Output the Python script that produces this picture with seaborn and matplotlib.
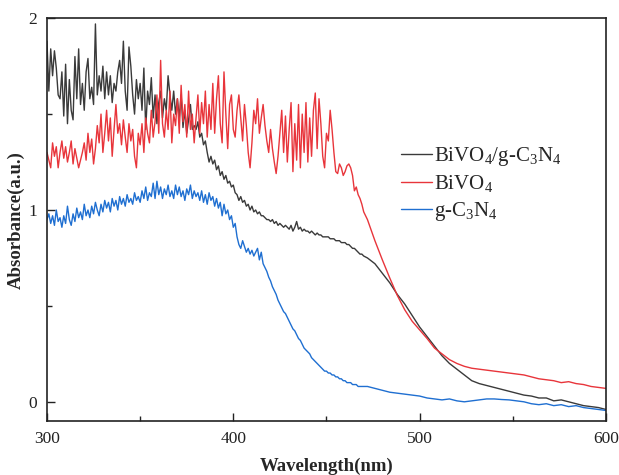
import numpy as np
import pandas as pd
import matplotlib
matplotlib.use("Agg")
import matplotlib.pyplot as plt
from matplotlib.ticker import MultipleLocator
import seaborn as sns

# ---------------- data ----------------
wavelength = list(range(300, 471)) + list(range(472, 601, 4))

bivo4_gc3n4 = [
    1.88, 1.62, 1.84, 1.70, 1.83, 1.74, 1.60, 1.58, 1.72, 1.49,
    1.76, 1.45, 1.68, 1.52, 1.47, 1.80, 1.58, 1.84, 1.55, 1.66,
    1.52, 1.72, 1.79, 1.58, 1.64, 1.55, 1.97, 1.60, 1.70, 1.62,
    1.75, 1.58, 1.72, 1.60, 1.70, 1.56, 1.66, 1.62, 1.72, 1.78,
    1.66, 1.88, 1.62, 1.52, 1.85, 1.75, 1.60, 1.50, 1.68, 1.58,
    1.66, 1.52, 1.74, 1.42, 1.62, 1.55, 1.69, 1.48, 1.60, 1.45,
    1.56, 1.62, 1.48, 1.58, 1.52, 1.70, 1.60, 1.52, 1.62, 1.50,
    1.58, 1.48, 1.60, 1.43, 1.52, 1.40, 1.47, 1.55, 1.42, 1.44,
    1.42, 1.46, 1.38, 1.40, 1.34, 1.36, 1.30, 1.25, 1.28, 1.24,
    1.26, 1.21, 1.23, 1.18, 1.20, 1.16, 1.18, 1.14, 1.15, 1.12,
    1.13, 1.09, 1.08, 1.05, 1.07, 1.04, 1.05, 1.02, 1.03, 1.00,
    1.02, 0.99, 1.00, 0.98, 0.99, 0.97, 0.97, 0.96, 0.95, 0.95,
    0.94, 0.95, 0.93, 0.94, 0.92, 0.93, 0.92, 0.91, 0.92, 0.91,
    0.90, 0.92, 0.89, 0.91, 0.94, 0.90, 0.91, 0.89, 0.90, 0.89,
    0.89, 0.88, 0.89, 0.88, 0.87, 0.88, 0.87, 0.87, 0.86, 0.86,
    0.86, 0.86, 0.85, 0.85, 0.85, 0.84, 0.84, 0.84, 0.83, 0.83,
    0.83, 0.82, 0.82, 0.81, 0.80, 0.80, 0.79, 0.78, 0.77, 0.77,
    0.76,
    0.75, 0.72, 0.67, 0.62, 0.56, 0.51, 0.45, 0.39, 0.34, 0.29,
    0.24, 0.20, 0.17, 0.14, 0.11, 0.095, 0.085, 0.075, 0.065, 0.055,
    0.045, 0.035, 0.03, 0.02, 0.02, 0.005, 0.01, 0.0, -0.01, -0.02,
    -0.025, -0.03, -0.04,
]

bivo4 = [
    1.30, 1.26, 1.22, 1.35, 1.28, 1.33, 1.22, 1.30, 1.36, 1.27,
    1.33, 1.25, 1.30, 1.36, 1.24, 1.32, 1.27, 1.22, 1.26, 1.30,
    1.35, 1.26, 1.40, 1.30, 1.37, 1.24, 1.32, 1.44, 1.35, 1.50,
    1.30, 1.40, 1.52, 1.36, 1.48, 1.28, 1.42, 1.55, 1.40, 1.45,
    1.34, 1.47, 1.38, 1.30, 1.45, 1.36, 1.42, 1.28, 1.22, 1.40,
    1.34, 1.45, 1.30, 1.48, 1.40, 1.35, 1.52, 1.38, 1.46, 1.60,
    1.40, 1.78, 1.45, 1.38, 1.52, 1.42, 1.62, 1.35, 1.50, 1.44,
    1.58, 1.40, 1.65, 1.46, 1.55, 1.38, 1.62, 1.42, 1.50, 1.35,
    1.48, 1.60, 1.40, 1.56, 1.45, 1.62, 1.38, 1.55, 1.42, 1.66,
    1.40, 1.58, 1.70, 1.45, 1.35, 1.72, 1.50, 1.32, 1.55, 1.60,
    1.42, 1.38, 1.52, 1.60, 1.48, 1.36, 1.55, 1.44, 1.30, 1.22,
    1.35, 1.52, 1.45, 1.58, 1.40, 1.48, 1.55, 1.44, 1.36, 1.30,
    1.42, 1.32, 1.25, 1.19, 1.28, 1.40, 1.52, 1.30, 1.49, 1.25,
    1.42, 1.56, 1.20, 1.45, 1.26, 1.55, 1.22, 1.50, 1.30, 1.56,
    1.25, 1.48, 1.28, 1.52, 1.61, 1.32, 1.58, 1.45, 1.28, 1.22,
    1.40, 1.36, 1.52, 1.42, 1.30, 1.20, 1.19, 1.24, 1.22, 1.18,
    1.20, 1.23, 1.24, 1.22, 1.18, 1.10, 1.12, 1.08, 1.06, 1.03,
    0.99,
    0.95, 0.84, 0.74, 0.645, 0.555, 0.48, 0.42, 0.375, 0.33, 0.28,
    0.25, 0.22, 0.20, 0.185, 0.175, 0.17, 0.165, 0.16, 0.155, 0.15,
    0.145, 0.14, 0.13, 0.12, 0.115, 0.11, 0.10, 0.105, 0.095, 0.09,
    0.08, 0.075, 0.07,
]

gc3n4 = [
    0.95, 0.98, 0.93, 0.97, 0.92, 1.00, 0.94, 0.96, 0.91, 0.97,
    0.93, 1.02, 0.95, 0.92, 0.98, 0.94, 1.01, 0.96, 0.99, 0.95,
    1.03, 0.97, 1.00, 0.96, 1.02, 0.98, 1.04, 1.00, 0.97, 1.03,
    0.99, 1.05, 1.01, 1.04, 0.99, 1.06, 1.02, 1.05, 1.00, 1.07,
    1.03, 1.06, 1.02, 1.08, 1.04, 1.06, 1.03, 1.09, 1.05, 1.07,
    1.04, 1.10, 1.06, 1.12, 1.05, 1.09, 1.07, 1.14, 1.06, 1.15,
    1.08, 1.12, 1.06, 1.11, 1.08, 1.13, 1.07, 1.10, 1.06, 1.13,
    1.08, 1.12, 1.07, 1.10, 1.05, 1.11, 1.08, 1.13, 1.06, 1.10,
    1.07, 1.09, 1.05, 1.10, 1.04, 1.08, 1.03, 1.09, 1.05, 1.07,
    1.02, 1.06, 1.01, 1.04, 0.97, 1.03, 0.98, 1.00, 0.95, 0.97,
    0.91, 0.93, 0.86, 0.82, 0.80, 0.84, 0.81, 0.78, 0.80, 0.77,
    0.79, 0.76, 0.78, 0.80, 0.74, 0.78, 0.72, 0.70, 0.68, 0.65,
    0.63, 0.60, 0.58, 0.56, 0.53, 0.51, 0.49, 0.47, 0.46, 0.44,
    0.42, 0.40, 0.38, 0.37, 0.35, 0.33, 0.32, 0.30, 0.28, 0.27,
    0.26, 0.25, 0.23, 0.22, 0.21, 0.20, 0.19, 0.18, 0.17, 0.16,
    0.16, 0.15, 0.15, 0.14, 0.14, 0.13, 0.13, 0.12, 0.12, 0.11,
    0.11, 0.10, 0.10, 0.10, 0.09, 0.09, 0.09, 0.08, 0.08, 0.08,
    0.08,
    0.08, 0.07, 0.06, 0.05, 0.045, 0.04, 0.035, 0.03, 0.02, 0.015,
    0.01, 0.015, 0.005, 0.0, 0.005, 0.01, 0.015, 0.015, 0.012, 0.01,
    0.005, 0.0, -0.01, -0.015, -0.01, -0.02, -0.015, -0.025, -0.02, -0.03,
    -0.035, -0.04, -0.045,
]

series_names = [r"BiVO$_\mathregular{4}$/g-C$_\mathregular{3}$N$_\mathregular{4}$",
                r"BiVO$_\mathregular{4}$",
                r"g-C$_\mathregular{3}$N$_\mathregular{4}$"]
series_colors = ["#3a3a3a", "#e8353b", "#1f6fd1"]

df = pd.concat([
    pd.DataFrame({"Wavelength": wavelength, "Absorbance": vals, "Sample": name})
    for name, vals in zip(series_names, [bivo4_gc3n4, bivo4, gc3n4])
], ignore_index=True)

# ---------------- style ----------------
sns.set_theme(style="ticks")
plt.rcParams["font.family"] = ["Liberation Serif", "DejaVu Serif"]
plt.rcParams["mathtext.fontset"] = "custom"
plt.rcParams["mathtext.rm"] = "Liberation Serif"

fig = plt.figure(figsize=(6.19, 4.75), dpi=100)
ax = fig.add_axes([0.0759, 0.1137, 0.903, 0.848])

sns.lineplot(data=df, x="Wavelength", y="Absorbance", hue="Sample",
             palette=dict(zip(series_names, series_colors)),
             estimator=None, sort=False, linewidth=1.0, ax=ax)

ax.set_xlim(300, 600)
ax.set_ylim(-0.1, 2.0)
ax.xaxis.set_major_locator(MultipleLocator(100))
ax.xaxis.set_minor_locator(MultipleLocator(50))
ax.yaxis.set_major_locator(MultipleLocator(1))
ax.yaxis.set_minor_locator(MultipleLocator(0.5))
ax.tick_params(which="both", direction="in", top=False, right=False,
               colors="#222222", labelcolor="#222222", labelsize=12.5)
ax.tick_params(which="major", length=6, width=1.0, pad=7)
ax.tick_params(which="minor", length=3.5, width=1.0)
for sp in ax.spines.values():
    sp.set_linewidth(1.2)
    sp.set_color("#222222")

ax.set_xlabel("Wavelength(nm)", fontsize=13.5, fontweight="bold", labelpad=8)
ax.set_ylabel("Absorbance(a.u.)", fontsize=13.5, fontweight="bold", labelpad=3)

leg = ax.legend(loc="upper left", bbox_to_anchor=(0.633, 0.685), frameon=False,
                fontsize=15, handlelength=1.5, handletextpad=0.1,
                labelspacing=0.25, borderpad=0, borderaxespad=0)
for line in leg.get_lines():
    line.set_linewidth(1.0)

fig.savefig("out.png", dpi=100)
